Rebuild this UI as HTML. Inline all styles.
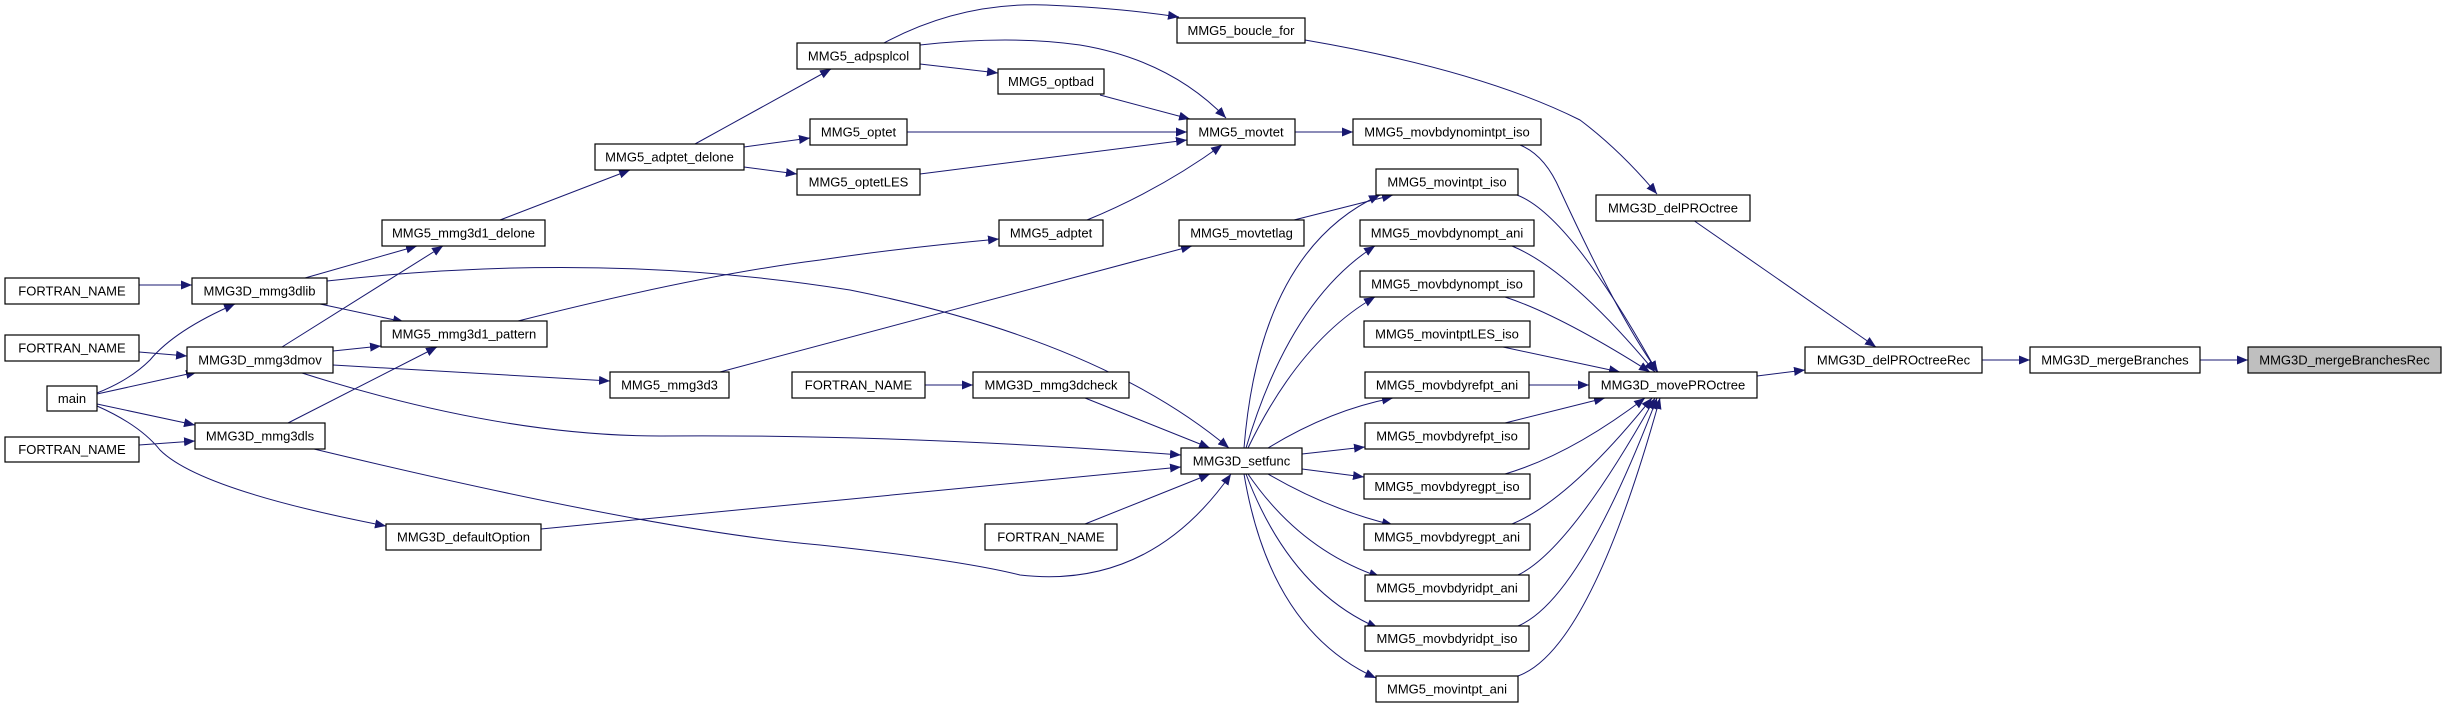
<!DOCTYPE html>
<html><head><meta charset="utf-8"><style>
html,body{margin:0;padding:0;background:#fff;}
svg{display:block;}
text{font-family:"Liberation Sans",Arial,sans-serif;font-size:13px;fill:#000;}
.n{fill:#fff;stroke:#000;stroke-width:1.2;}
.e{fill:none;stroke:#191970;stroke-width:1;}
</style></head><body>
<svg width="2447" height="708" viewBox="0 0 2447 708" xmlns="http://www.w3.org/2000/svg">
<defs>
<marker id="a" markerUnits="userSpaceOnUse" markerWidth="12" markerHeight="10" refX="11" refY="4.5" orient="auto">
<path d="M0,0 L11,4.5 L0,9 Z" fill="#191970"/>
</marker>
</defs>
<g class="edges" marker-end="url(#a)">
<path class="e" marker-end="url(#a)" d="M139,285 L192,285"/>
<path class="e" marker-end="url(#a)" d="M139,352 L187,356"/>
<path class="e" marker-end="url(#a)" d="M139,445 L195,441"/>
<path class="e" marker-end="url(#a)" d="M97,393 Q130,380 150,360 Q175,330 235,304"/>
<path class="e" marker-end="url(#a)" d="M97,394 L197,372"/>
<path class="e" marker-end="url(#a)" d="M97,404 L195,425"/>
<path class="e" marker-end="url(#a)" d="M97,406 Q140,425 160,450 Q200,490 386,526"/>
<path class="e" marker-end="url(#a)" d="M305,278 L417,246"/>
<path class="e" marker-end="url(#a)" d="M320,304 L404,322"/>
<path class="e" marker-end="url(#a)" d="M327,281 Q600,250 850,290 Q1100,340 1229,448"/>
<path class="e" marker-end="url(#a)" d="M282,347 L443,246"/>
<path class="e" marker-end="url(#a)" d="M333,351 L381,346"/>
<path class="e" marker-end="url(#a)" d="M333,365 L610,381"/>
<path class="e" marker-end="url(#a)" d="M302,373 Q500,436 660,436 Q900,434 1181,455"/>
<path class="e" marker-end="url(#a)" d="M288,423 L437,347"/>
<path class="e" marker-end="url(#a)" d="M314,449 Q650,530 820,545 Q960,560 1020,575 Q1150,590 1231,474"/>
<path class="e" marker-end="url(#a)" d="M541,529 L1181,467"/>
<path class="e" marker-end="url(#a)" d="M500,220 L630,170"/>
<path class="e" marker-end="url(#a)" d="M518,321 Q700,275 820,260 Q900,248 999,239"/>
<path class="e" marker-end="url(#a)" d="M720,372 L1192,246"/>
<path class="e" marker-end="url(#a)" d="M695,144 L831,69"/>
<path class="e" marker-end="url(#a)" d="M744,147 L810,138"/>
<path class="e" marker-end="url(#a)" d="M744,167 L797,174"/>
<path class="e" marker-end="url(#a)" d="M884,43 Q960,2 1046,5 Q1120,8 1179,17"/>
<path class="e" marker-end="url(#a)" d="M920,45 Q1010,35 1080,45 Q1170,60 1226,118"/>
<path class="e" marker-end="url(#a)" d="M920,64 L998,73"/>
<path class="e" marker-end="url(#a)" d="M1100,95 L1190,119"/>
<path class="e" marker-end="url(#a)" d="M907,132 L1187,132"/>
<path class="e" marker-end="url(#a)" d="M920,174 L1187,140"/>
<path class="e" marker-end="url(#a)" d="M1087,220 Q1160,190 1222,145"/>
<path class="e" marker-end="url(#a)" d="M1295,132 L1353,132"/>
<path class="e" marker-end="url(#a)" d="M1305,40 Q1480,70 1580,120 Q1620,150 1657,194"/>
<path class="e" marker-end="url(#a)" d="M1294,220 L1393,195"/>
<path class="e" marker-end="url(#a)" d="M1085,398 L1210,448"/>
<path class="e" marker-end="url(#a)" d="M925,385 L973,385"/>
<path class="e" marker-end="url(#a)" d="M1085,524 L1210,474"/>
<path class="e" marker-end="url(#a)" d="M1244,448 Q1260,250 1380,195"/>
<path class="e" marker-end="url(#a)" d="M1246,448 Q1290,300 1375,246"/>
<path class="e" marker-end="url(#a)" d="M1248,448 Q1300,340 1375,297"/>
<path class="e" marker-end="url(#a)" d="M1268,448 Q1330,410 1393,398"/>
<path class="e" marker-end="url(#a)" d="M1302,454 L1365,447"/>
<path class="e" marker-end="url(#a)" d="M1302,469 L1364,477"/>
<path class="e" marker-end="url(#a)" d="M1268,474 Q1330,510 1393,525"/>
<path class="e" marker-end="url(#a)" d="M1248,474 Q1300,550 1380,577"/>
<path class="e" marker-end="url(#a)" d="M1246,474 Q1290,590 1378,628"/>
<path class="e" marker-end="url(#a)" d="M1244,474 Q1270,630 1376,678"/>
<path class="e" marker-end="url(#a)" d="M1520,145 Q1545,155 1560,190 Q1620,320 1658,372"/>
<path class="e" marker-end="url(#a)" d="M1517,195 Q1570,215 1657,372"/>
<path class="e" marker-end="url(#a)" d="M1512,246 Q1570,270 1655,372"/>
<path class="e" marker-end="url(#a)" d="M1505,297 Q1560,315 1650,372"/>
<path class="e" marker-end="url(#a)" d="M1503,347 L1620,372"/>
<path class="e" marker-end="url(#a)" d="M1529,385 L1589,385"/>
<path class="e" marker-end="url(#a)" d="M1505,423 L1605,398"/>
<path class="e" marker-end="url(#a)" d="M1505,474 Q1570,455 1645,398"/>
<path class="e" marker-end="url(#a)" d="M1512,524 Q1570,500 1652,398"/>
<path class="e" marker-end="url(#a)" d="M1518,575 Q1570,550 1655,398"/>
<path class="e" marker-end="url(#a)" d="M1518,626 Q1580,600 1657,398"/>
<path class="e" marker-end="url(#a)" d="M1518,676 Q1590,650 1660,398"/>
<path class="e" marker-end="url(#a)" d="M1693,220 L1876,347"/>
<path class="e" marker-end="url(#a)" d="M1757,376 L1805,370"/>
<path class="e" marker-end="url(#a)" d="M1982,360 L2030,360"/>
<path class="e" marker-end="url(#a)" d="M2200,360 L2248,360"/>
</g>
<g>
<rect class="n" x="5" y="278" width="134" height="26"/><text x="72" y="295.5" text-anchor="middle">FORTRAN_NAME</text>
<rect class="n" x="192" y="278" width="135" height="26"/><text x="259.5" y="295.5" text-anchor="middle">MMG3D_mmg3dlib</text>
<rect class="n" x="5" y="335" width="134" height="26"/><text x="72" y="352.5" text-anchor="middle">FORTRAN_NAME</text>
<rect class="n" x="187" y="347" width="146" height="26"/><text x="260" y="364.5" text-anchor="middle">MMG3D_mmg3dmov</text>
<rect class="n" x="47" y="386" width="50" height="25"/><text x="72" y="403" text-anchor="middle">main</text>
<rect class="n" x="5" y="437" width="134" height="25"/><text x="72" y="454" text-anchor="middle">FORTRAN_NAME</text>
<rect class="n" x="195" y="423" width="130" height="26"/><text x="260" y="440.5" text-anchor="middle">MMG3D_mmg3dls</text>
<rect class="n" x="382" y="220" width="163" height="26"/><text x="463.5" y="237.5" text-anchor="middle">MMG5_mmg3d1_delone</text>
<rect class="n" x="381" y="321" width="166" height="26"/><text x="464" y="338.5" text-anchor="middle">MMG5_mmg3d1_pattern</text>
<rect class="n" x="386" y="524" width="155" height="26"/><text x="463.5" y="541.5" text-anchor="middle">MMG3D_defaultOption</text>
<rect class="n" x="595" y="144" width="149" height="26"/><text x="669.5" y="161.5" text-anchor="middle">MMG5_adptet_delone</text>
<rect class="n" x="610" y="372" width="119" height="26"/><text x="669.5" y="389.5" text-anchor="middle">MMG5_mmg3d3</text>
<rect class="n" x="797" y="43" width="123" height="26"/><text x="858.5" y="60.5" text-anchor="middle">MMG5_adpsplcol</text>
<rect class="n" x="810" y="119" width="97" height="26"/><text x="858.5" y="136.5" text-anchor="middle">MMG5_optet</text>
<rect class="n" x="797" y="169" width="123" height="26"/><text x="858.5" y="186.5" text-anchor="middle">MMG5_optetLES</text>
<rect class="n" x="998" y="69" width="106" height="25"/><text x="1051" y="86" text-anchor="middle">MMG5_optbad</text>
<rect class="n" x="999" y="220" width="104" height="26"/><text x="1051" y="237.5" text-anchor="middle">MMG5_adptet</text>
<rect class="n" x="792" y="372" width="133" height="26"/><text x="858.5" y="389.5" text-anchor="middle">FORTRAN_NAME</text>
<rect class="n" x="973" y="372" width="156" height="26"/><text x="1051" y="389.5" text-anchor="middle">MMG3D_mmg3dcheck</text>
<rect class="n" x="985" y="524" width="132" height="26"/><text x="1051" y="541.5" text-anchor="middle">FORTRAN_NAME</text>
<rect class="n" x="1177" y="18" width="128" height="25"/><text x="1241" y="35" text-anchor="middle">MMG5_boucle_for</text>
<rect class="n" x="1187" y="119" width="108" height="26"/><text x="1241" y="136.5" text-anchor="middle">MMG5_movtet</text>
<rect class="n" x="1179" y="220" width="125" height="26"/><text x="1241.5" y="237.5" text-anchor="middle">MMG5_movtetlag</text>
<rect class="n" x="1181" y="448" width="121" height="26"/><text x="1241.5" y="465.5" text-anchor="middle">MMG3D_setfunc</text>
<rect class="n" x="1353" y="119" width="188" height="26"/><text x="1447" y="136.5" text-anchor="middle">MMG5_movbdynomintpt_iso</text>
<rect class="n" x="1376" y="169" width="142" height="26"/><text x="1447" y="186.5" text-anchor="middle">MMG5_movintpt_iso</text>
<rect class="n" x="1360" y="220" width="174" height="26"/><text x="1447" y="237.5" text-anchor="middle">MMG5_movbdynompt_ani</text>
<rect class="n" x="1360" y="271" width="174" height="26"/><text x="1447" y="288.5" text-anchor="middle">MMG5_movbdynompt_iso</text>
<rect class="n" x="1364" y="321" width="166" height="26"/><text x="1447" y="338.5" text-anchor="middle">MMG5_movintptLES_iso</text>
<rect class="n" x="1365" y="372" width="164" height="26"/><text x="1447" y="389.5" text-anchor="middle">MMG5_movbdyrefpt_ani</text>
<rect class="n" x="1365" y="423" width="164" height="26"/><text x="1447" y="440.5" text-anchor="middle">MMG5_movbdyrefpt_iso</text>
<rect class="n" x="1364" y="474" width="166" height="25"/><text x="1447" y="491" text-anchor="middle">MMG5_movbdyregpt_iso</text>
<rect class="n" x="1364" y="524" width="166" height="26"/><text x="1447" y="541.5" text-anchor="middle">MMG5_movbdyregpt_ani</text>
<rect class="n" x="1365" y="575" width="164" height="26"/><text x="1447" y="592.5" text-anchor="middle">MMG5_movbdyridpt_ani</text>
<rect class="n" x="1365" y="626" width="164" height="25"/><text x="1447" y="643" text-anchor="middle">MMG5_movbdyridpt_iso</text>
<rect class="n" x="1376" y="676" width="142" height="26"/><text x="1447" y="693.5" text-anchor="middle">MMG5_movintpt_ani</text>
<rect class="n" x="1596" y="195" width="154" height="26"/><text x="1673" y="212.5" text-anchor="middle">MMG3D_delPROctree</text>
<rect class="n" x="1589" y="372" width="168" height="26"/><text x="1673" y="389.5" text-anchor="middle">MMG3D_movePROctree</text>
<rect class="n" x="1805" y="347" width="177" height="26"/><text x="1893.5" y="364.5" text-anchor="middle">MMG3D_delPROctreeRec</text>
<rect class="n" x="2030" y="347" width="170" height="26"/><text x="2115" y="364.5" text-anchor="middle">MMG3D_mergeBranches</text>
<rect x="2248" y="347" width="193" height="26" fill="#bfbfbf" stroke="#000" stroke-width="1.2"/><text x="2344.5" y="364.5" text-anchor="middle">MMG3D_mergeBranchesRec</text>
</g>
</svg>
</body></html>
